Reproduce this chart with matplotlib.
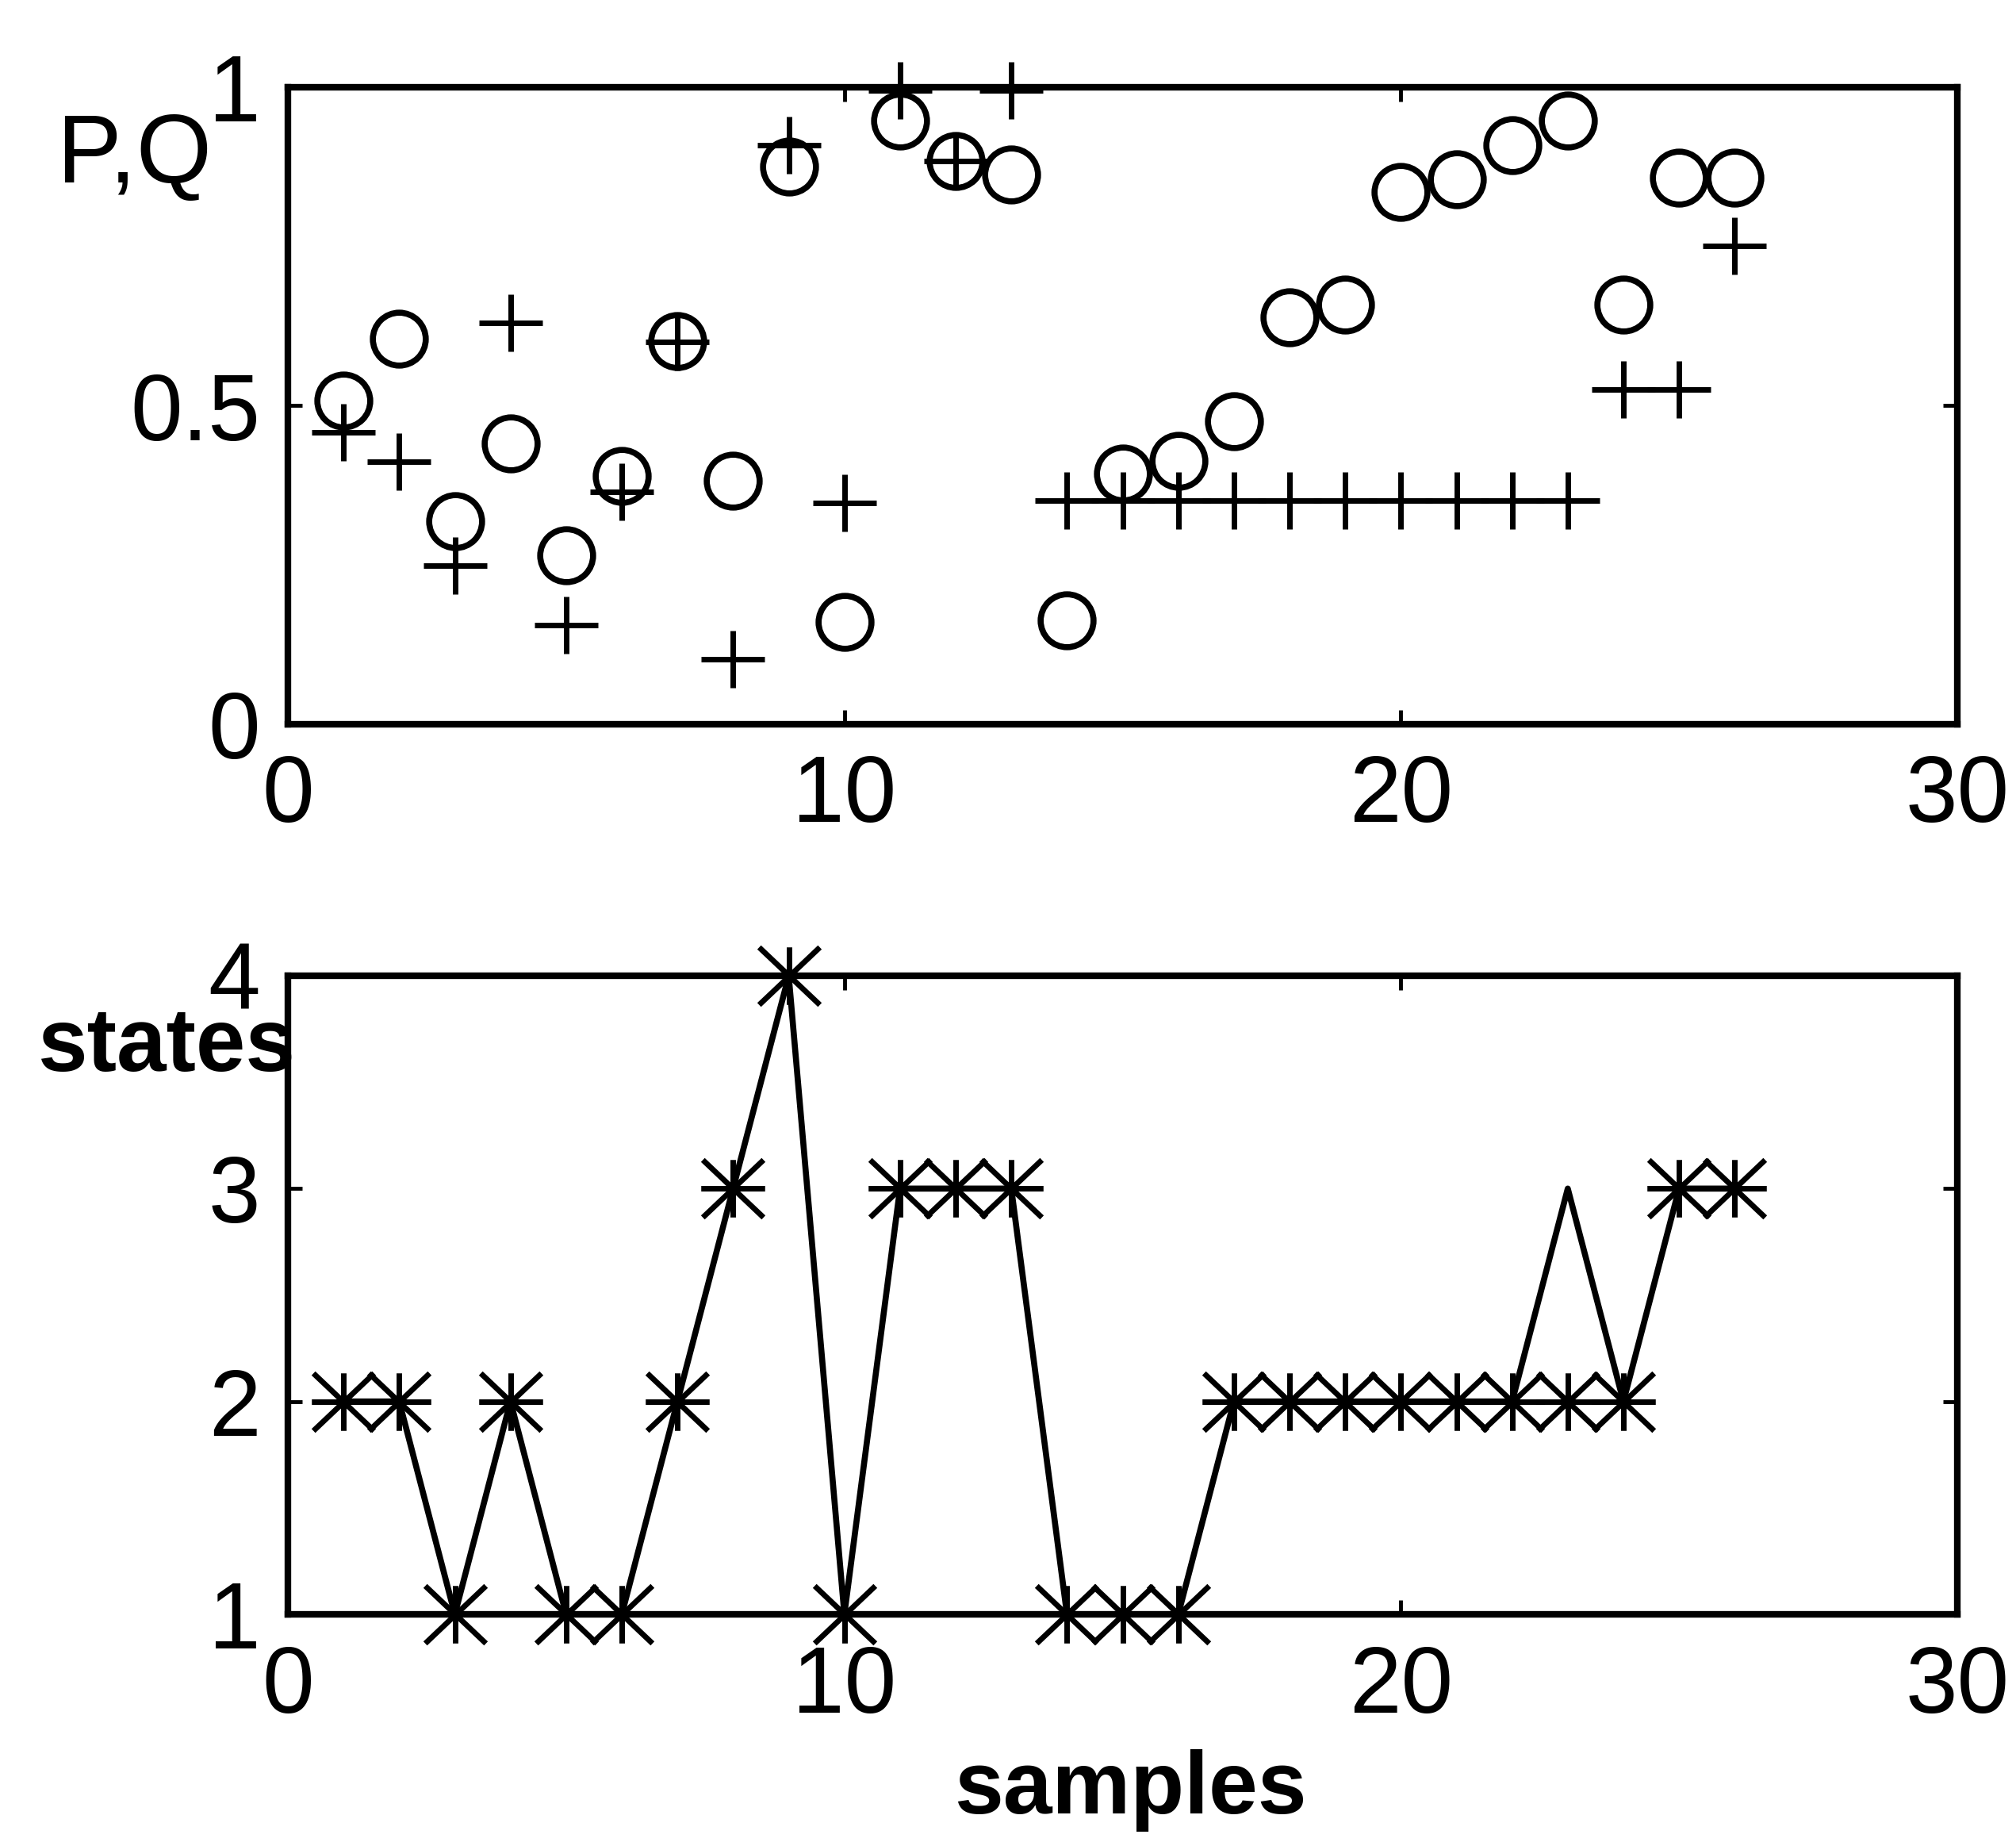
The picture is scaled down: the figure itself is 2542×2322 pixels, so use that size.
import matplotlib
matplotlib.use("Agg")
import matplotlib.pyplot as plt
from matplotlib.path import Path

plt.rcParams['font.family'] = ['Liberation Sans', 'DejaVu Sans']

# ---- data ----
samples = list(range(1, 27))
p_values = [0.508, 0.605, 0.319, 0.441, 0.265, 0.390, 0.601, 0.382, 0.876, 0.161,
            0.948, 0.884, 0.863, 0.163, 0.394, 0.413, 0.476, 0.639, 0.659, 0.835,
            0.855, 0.909, 0.948, 0.659, 0.858, 0.858]
q_values = [0.458, 0.412, 0.249, 0.630, 0.156, 0.365, 0.600, 0.102, 0.909, 0.347,
            0.995, 0.884, 0.995, 0.351, 0.351, 0.351, 0.351, 0.351, 0.351, 0.351,
            0.351, 0.351, 0.351, 0.526, 0.526, 0.751]
state_path = [2, 2, 1, 2, 1, 1, 2, 3, 4, 1, 3, 3, 3, 1, 1, 1, 2, 2, 2, 2, 2, 2, 3, 2, 3, 3]
state_marks = [2, 2, 1, 2, 1, 1, 2, 3, 4, 1, 3, 3, 3, 1, 1, 1, 2, 2, 2, 2, 2, 2, 2, 2, 3, 3]

x_ticks = [0, 10, 20, 30]
x_tick_labels = ['0', '10', '20', '30']
pq_ticks = [0, 0.5, 1]
pq_tick_labels = ['0', '0.5', '1']
state_ticks = [1, 2, 3, 4]
state_tick_labels = ['1', '2', '3', '4']

# ---- marker shapes (MATLAB-like '+' and '*') ----
M, L = Path.MOVETO, Path.LINETO
plus_marker = Path([(-1, 0), (1, 0), (0, -0.9), (0, 0.9)], [M, L, M, L])
star_marker = Path([(-1, 0), (1, 0), (0, -0.9), (0, 0.9),
                    (-0.95, -0.9), (0.95, 0.9), (-0.95, 0.9), (0.95, -0.9)],
                   [M, L, M, L, M, L, M, L])

W, H = 2542, 2322
fig = plt.figure(figsize=(W / 100, H / 100), dpi=100)
fig.patch.set_facecolor('white')

left = 363 / W
width = (2468 - 363) / W
ax1 = fig.add_axes([left, 1 - 913 / H, width, (913 - 110) / H])
ax2 = fig.add_axes([left, 1 - 2035 / H, width, (2035 - 1230) / H])

TICK_FS = 85

for ax in (ax1, ax2):
    for s in ax.spines.values():
        s.set_linewidth(6)
        s.set_color('black')
    ax.tick_params(direction='in', top=True, right=True, length=13, width=3.5,
                   labelsize=TICK_FS, colors='black')
    ax.tick_params(axis='x', pad=27)
    ax.tick_params(axis='y', pad=25)
    ax.set_xlim(0, 30)
    ax.set_xticks(x_ticks)
    ax.set_xticklabels(x_tick_labels)

# ---- top panel ----
ax1.plot(samples, p_values, linestyle='none', marker='o', markersize=48,
         markerfacecolor='none', markeredgecolor='black', markeredgewidth=5.5,
         clip_on=False, zorder=3)
ax1.plot(samples, q_values, linestyle='none', marker=plus_marker, markersize=58,
         markeredgecolor='black', markeredgewidth=5, clip_on=False, zorder=3)
ax1.set_ylim(0, 1)
ax1.set_yticks(pq_ticks)
ax1.set_yticklabels(pq_tick_labels)
ax1.set_ylabel('P,Q', fontsize=88, rotation=0, ha='left', va='baseline')
ax1.yaxis.set_label_coords(-0.1382, 0.851)

# ---- bottom panel ----
ax2.plot(samples, state_path, color='black', linewidth=5.5, clip_on=False, zorder=3)
ax2.plot(samples, state_marks, linestyle='none', marker=star_marker, markersize=58,
         markeredgecolor='black', markeredgewidth=5, clip_on=False, zorder=4)
ax2.set_ylim(1, 4)
ax2.set_yticks(state_ticks)
ax2.set_yticklabels(state_tick_labels)
ax2.set_ylabel('states', fontsize=81, fontweight='bold', rotation=0,
               ha='left', va='baseline')
ax2.yaxis.set_label_coords(-0.1496, 0.851)
ax2.set_xlabel('samples', fontsize=80, fontweight='bold', ha='center', va='baseline')
ax2.xaxis.set_label_coords(0.5045, -0.312)

fig.savefig('out.png', dpi=100, facecolor='white')
